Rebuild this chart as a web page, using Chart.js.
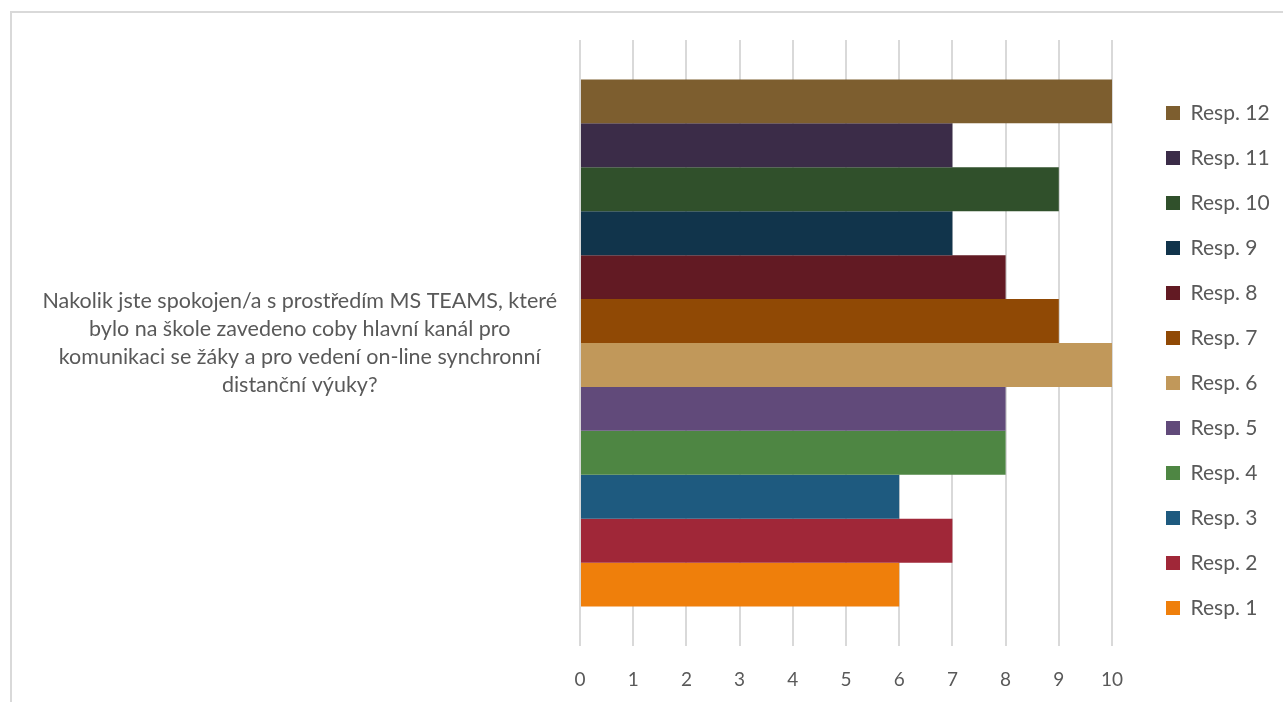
<!DOCTYPE html>
<html lang="cs">
<head>
  <meta charset="UTF-8" />
  <title>MS TEAMS spokojenost</title>
  <script src="https://cdn.jsdelivr.net/npm/chart.js"></script>
  <style>
    html, body {
      margin: 0;
      padding: 0;
      background: #fff;
      overflow: hidden;
    }
    #frame {
      position: absolute;
      left: 10px;
      top: 11px;
      width: 1300px;
      height: 720px;
      border: 2px solid #d9d9d9;
    }
    #chartContainer {
      position: absolute;
      left: 0;
      top: 0;
      width: 1283px;
      height: 702px;
    }
  </style>
</head>
<body>
  <div id="frame"></div>
  <div id="chartContainer">
    <canvas id="barChart"></canvas>
  </div>

  <script>
    // question (one category, split in lines like the original)
    const questionLines = [
      "Nakolik jste spokojen/a s prostředím MS TEAMS, které",
      "bylo na škole zavedeno coby hlavní kanál pro",
      "komunikaci se žáky a pro vedení on-line synchronní",
      "distanční výuky?"
    ];
    const categories = [questionLines];

    const seriesNames = [
      "Resp. 1", "Resp. 2", "Resp. 3", "Resp. 4", "Resp. 5", "Resp. 6",
      "Resp. 7", "Resp. 8", "Resp. 9", "Resp. 10", "Resp. 11", "Resp. 12"
    ];
    const seriesValues = [6, 7, 6, 8, 8, 10, 9, 8, 7, 9, 7, 10];
    const seriesColors = [
      "#ef7f0b", "#a02738", "#1e5a7f", "#4e8643", "#614a7a", "#c1985a",
      "#904905", "#621a23", "#11344b", "#30502b", "#3b2c48", "#7d5e2f"
    ];
    const xTickValues = [0, 1, 2, 3, 4, 5, 6, 7, 8, 9, 10];

    const textColor = "#595959";
    const fontFamily = "Lato, 'Open Sans', sans-serif";

    // Resp. 12 goes on top, so build the datasets in reverse
    const datasets = seriesNames.map((name, i) => ({
      label: name,
      data: [seriesValues[i]],
      backgroundColor: seriesColors[i],
      borderWidth: 0,
      barPercentage: 1,
      categoryPercentage: 0.87
    })).reverse();

    // fix legend width and nudge it up a bit
    const legendTweak = {
      id: "legendTweak",
      beforeLayout(chart) {
        const lg = chart.legend;
        if (!lg || lg._patched) return;
        const origFit = lg.fit.bind(lg);
        lg.fit = function () {
          origFit();
          this.width = 141;
        };
        lg._patched = true;
      },
      afterLayout(chart) {
        const lg = chart.legend;
        lg.top -= 5;
        lg.bottom -= 5;
      }
    };

    const ctx = document.getElementById("barChart").getContext("2d");
    new Chart(ctx, {
      type: "bar",
      data: {
        labels: categories,
        datasets: datasets
      },
      plugins: [legendTweak],
      options: {
        indexAxis: "y",
        responsive: true,
        maintainAspectRatio: false,
        animation: false,
        layout: {
          padding: { top: 40, bottom: 11, left: 0, right: 0 }
        },
        scales: {
          x: {
            min: 0,
            max: 10,
            afterBuildTicks: (scale) => {
              scale.ticks = xTickValues.map(v => ({ value: v }));
            },
            afterFit: (scale) => {
              scale.height = 45;
              scale.paddingLeft = 0;
              scale.paddingRight = 0;
            },
            grid: { color: "#d9d9d9", lineWidth: 2, drawTicks: false },
            border: { display: false },
            ticks: {
              color: textColor,
              font: { family: fontFamily, size: 19 },
              padding: 22
            }
          },
          y: {
            grid: { display: false, drawTicks: false },
            border: { display: false },
            afterFit: (scale) => {
              scale.width = 580;
              scale.paddingTop = 0;
              scale.paddingBottom = 0;
            },
            ticks: {
              crossAlign: "center",
              color: textColor,
              font: { family: fontFamily, size: 21.5, lineHeight: 1.3 },
              padding: 23
            }
          },
          gap: {
            type: "category",
            position: "right",
            grid: { display: false, drawTicks: false },
            border: { display: false },
            ticks: { display: false },
            afterFit: (scale) => {
              scale.width = 30;
              scale.paddingTop = 0;
              scale.paddingBottom = 0;
            }
          }
        },
        plugins: {
          legend: {
            position: "right",
            align: "center",
            labels: {
              color: textColor,
              font: { family: fontFamily, size: 21 },
              boxWidth: 14,
              boxHeight: 14,
              padding: 24
            }
          },
          tooltip: { enabled: false }
        }
      }
    });
  </script>
</body>
</html>
